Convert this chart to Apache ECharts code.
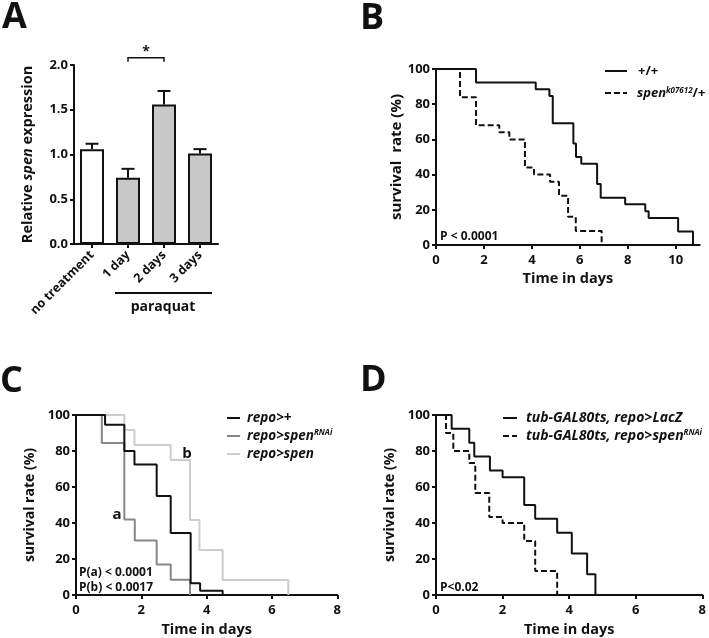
<!DOCTYPE html>
<html><head><meta charset="utf-8">
<script src="https://cdn.jsdelivr.net/npm/echarts@6/dist/echarts.min.js"></script>
<style>html,body{margin:0;padding:0;background:#fff}#c{width:709px;height:638px}</style>
</head><body><div id="c"></div>
<script>
// ---- Panel A data ----
const barCategories = ['no treatment', '1 day', '2 days', '3 days'];
const barValues = [1.06, 0.74, 1.56, 1.01];
const barErrors = [0.06, 0.10, 0.15, 0.05];

// ---- Panel B data ----
const bWildTime = [0, 1.67, 4.16, 4.73, 4.87, 5.73, 5.84, 6.06, 6.72, 6.87, 7.89, 8.73, 8.87, 10.1, 10.72];
const bWildSurv = [100, 92.3, 88.5, 84.6, 69.2, 57.7, 50, 46.2, 34.6, 26.9, 23.1, 19.2, 15.4, 7.7, 0];
const bSpenTime = [0, 1.0, 1.67, 2.64, 3.06, 3.71, 4.09, 4.76, 5.13, 5.51, 5.83, 6.91];
const bSpenSurv = [100, 84, 68, 64, 60, 44, 40, 36, 28, 16, 8, 0];
const xTicksB = [0, 2, 4, 6, 8, 10];
const xTicksCD = [0, 2, 4, 6, 8];

// ---- Panel C data ----
const cRepoTime = [0, 0.89, 1.48, 1.79, 2.47, 2.9, 3.51, 3.8, 4.49];
const cRepoSurv = [100, 94.6, 80, 72.5, 55, 34.5, 6.5, 2.3, 0];
const cRnaiTime = [0, 0.79, 1.48, 1.8, 2.47, 2.9, 3.49];
const cRnaiSurv = [100, 84.5, 42, 30.3, 17, 8.5, 0];
const cSpenTime = [0, 1.48, 1.79, 2.9, 3.49, 3.78, 4.49, 6.5];
const cSpenSurv = [100, 91.7, 83.3, 75, 41.7, 25, 8.3, 0];

// ---- Panel D data ----
const dLacZTime = [0, 0.47, 1.0, 1.15, 1.62, 2.0, 2.65, 2.98, 3.64, 4.08, 4.54, 4.79];
const dLacZSurv = [100, 92.3, 84.6, 76.9, 69.2, 65.4, 50, 42.3, 34.6, 23.1, 11.5, 0];
const dRnaiTime = [0, 0.3, 0.52, 1.0, 1.18, 1.6, 2.0, 2.65, 2.98, 3.64];
const dRnaiSurv = [100, 90, 80, 73.3, 56.7, 43.3, 40, 30, 13.3, 0];

const FONT = '"Open Sans"';
const INK = '#111';
const DASH = [6, 3];
const zip = (t, s) => t.map((x, i) => [x, s[i]]);

const axisBase = {
  axisLine: { show: true, onZero: false, lineStyle: { color: INK, width: 2 } },
  axisTick: { show: true, length: 4, lineStyle: { color: INK, width: 2 } },
  axisLabel: { color: INK, fontWeight: 'bold', fontSize: 13, fontFamily: FONT, margin: 6 },
  splitLine: { show: false },
  nameTextStyle: { color: INK, fontWeight: 'bold', fontSize: 14, fontFamily: FONT }
};
function ax(extra) {
  const o = JSON.parse(JSON.stringify(axisBase));
  for (const k in extra) {
    if (typeof extra[k] === 'object' && !Array.isArray(extra[k]) && o[k]) Object.assign(o[k], extra[k]);
    else o[k] = extra[k];
  }
  return o;
}
function survY(idx, gap, name, size) {
  return ax({ type: 'value', gridIndex: idx, min: 0, max: 100, interval: 20,
    name: name, nameLocation: 'middle', nameGap: gap, nameTextStyle: { fontSize: size } });
}
function survX(idx, max, ticks, gap) {
  return ax({ type: 'value', gridIndex: idx, min: 0, max: max, interval: 2,
    axisLabel: { customValues: ticks, margin: 9 }, axisTick: { customValues: ticks },
    name: 'Time in days', nameLocation: 'middle', nameGap: gap, nameTextStyle: { fontSize: 14.5 } });
}
function km(idx, data, color, dashed) {
  return { type: 'line', xAxisIndex: idx, yAxisIndex: idx, step: 'end', symbol: 'none',
    data: data, lineStyle: { color: color, width: 2, type: dashed ? DASH : 'solid' },
    silent: true, animation: false };
}

const chart = echarts.init(document.getElementById('c'), null, { renderer: 'canvas' });

const txt = (x, y, text, size, extra) => Object.assign({ type: 'text', x: x, y: y,
  style: Object.assign({ text: text, fill: INK, font: 'bold ' + size + 'px ' + FONT,
  textVerticalAlign: 'middle' }, extra || {}) });
const seg = (x1, y1, x2, y2, color, dashed) => ({ type: 'line',
  shape: { x1: x1, y1: y1, x2: x2, y2: y2 },
  style: { stroke: color, lineWidth: 2, lineDash: dashed ? DASH : null } });
function richSup(size) {
  return {
    i: { fontStyle: 'italic', fontWeight: 'bold', fontSize: size, fontFamily: FONT, fill: INK },
    s: { fontStyle: 'italic', fontWeight: 'bold', fontSize: 8, fontFamily: FONT, fill: INK, verticalAlign: 'top' },
    n: { fontWeight: 'bold', fontSize: size, fontFamily: FONT, fill: INK }
  };
}
const richTxt = (x, y, text, size) => ({ type: 'text', x: x, y: y,
  style: { text: text, rich: richSup(size), verticalAlign: 'middle', textVerticalAlign: 'middle' } });

const option = {
  animation: false,
  grid: [
    { left: 74, top: 65, width: 144, height: 179 },
    { left: 436, top: 69, width: 263.7, height: 176 },
    { left: 76, top: 415, width: 261.3, height: 181.7 },
    { left: 436, top: 415, width: 267.3, height: 181.7 }
  ],
  xAxis: [
    ax({ type: 'category', gridIndex: 0, data: barCategories,
      axisTick: { alignWithLabel: true },
      axisLabel: { rotate: 45, interval: 0, fontSize: 12.5, margin: 9 } }),
    survX(1, 11, xTicksB, 26),
    survX(2, 8, xTicksCD, 27),
    survX(3, 8, xTicksCD, 27)
  ],
  yAxis: [
    ax({ type: 'value', gridIndex: 0, min: 0, max: 2, interval: 0.5,
      axisLabel: { formatter: v => v.toFixed(1) },
      name: 'Relative {i|spen} expression', nameLocation: 'middle', nameGap: 39,
      nameTextStyle: { fontSize: 14.5, rich: { i: { fontStyle: 'italic', fontWeight: 'bold', fontSize: 14.5, fontFamily: FONT, color: INK } } } }),
    survY(1, 24, 'survival  rate (%)', 15),
    survY(2, 39, 'survival rate (%)', 14),
    survY(3, 39, 'survival rate (%)', 14)
  ],
  series: [
    { type: 'bar', xAxisIndex: 0, yAxisIndex: 0, barWidth: 24, silent: true,
      data: barValues.map((v, i) => ({ value: v, itemStyle: { color: i === 0 ? '#ffffff' : '#c8c8c8' } })),
      itemStyle: { borderColor: INK, borderWidth: 2 } },
    { type: 'custom', xAxisIndex: 0, yAxisIndex: 0, silent: true, clip: false,
      data: barValues.map((v, i) => [i, v, v + barErrors[i]]),
      renderItem: (params, api) => {
        const lo = api.coord([api.value(0), api.value(1)]);
        const hi = api.coord([api.value(0), api.value(2)]);
        return { type: 'group', children: [
          { type: 'line', shape: { x1: lo[0], y1: lo[1], x2: hi[0], y2: hi[1] }, style: { stroke: INK, lineWidth: 2 } },
          { type: 'line', shape: { x1: hi[0] - 6.5, y1: hi[1], x2: hi[0] + 6.5, y2: hi[1] }, style: { stroke: INK, lineWidth: 2 } }
        ] };
      } },
    { type: 'custom', xAxisIndex: 0, yAxisIndex: 0, silent: true, clip: false,
      data: [[1, 2, 2.08]],
      renderItem: (params, api) => {
        const a = api.coord([api.value(0), api.value(2)]);
        const b = api.coord([api.value(1), api.value(2)]);
        return { type: 'group', children: [
          { type: 'polyline', shape: { points: [[a[0], a[1] + 4], [a[0], a[1]], [b[0], b[1]], [b[0], b[1] + 4]] },
            style: { stroke: INK, lineWidth: 1.5, fill: null } },
          { type: 'text', x: (a[0] + b[0]) / 2, y: a[1] - 6,
            style: { text: '*', font: 'bold 14px ' + FONT, fill: INK, textAlign: 'center', textVerticalAlign: 'middle' } }
        ] };
      } },
    km(1, zip(bWildTime, bWildSurv), INK, false),
    km(1, zip(bSpenTime, bSpenSurv), INK, true),
    km(2, zip(cSpenTime, cSpenSurv), '#cdcdcd', false),
    km(2, zip(cRnaiTime, cRnaiSurv), '#878787', false),
    km(2, zip(cRepoTime, cRepoSurv), INK, false),
    km(3, zip(dLacZTime, dLacZSurv), INK, false),
    km(3, zip(dRnaiTime, dRnaiSurv), INK, true)
  ],
  graphic: [
    txt(2, 18, 'A', 36),
    txt(360, 19, 'B', 36),
    txt(0, 382, 'C', 36),
    txt(360, 381, 'D', 36),
    // paraquat annotation
    seg(115, 293, 212, 293, INK, false),
    txt(163, 307, 'paraquat', 14, { textAlign: 'center' }),
    // panel B legend & p
    seg(605, 71, 627, 71, INK, false),
    txt(638, 71, '+/+', 13),
    seg(605, 93, 627, 93, INK, true),
    richTxt(637, 93, '{i|spen}{s|k07612}{n|/+}', 13),
    txt(440, 237, 'P < 0.0001', 12),
    // panel C legend & labels
    seg(227, 418, 240, 418, INK, false),
    richTxt(247, 418, '{i|repo>+}', 13.5),
    seg(227, 436, 240, 436, '#878787', false),
    richTxt(247, 436, '{i|repo>spen}{s|RNAi}', 13.5),
    seg(227, 454, 240, 454, '#cdcdcd', false),
    richTxt(247, 454, '{i|repo>spen}', 13.5),
    txt(117, 515, 'a', 15, { textAlign: 'center' }),
    txt(187, 454, 'b', 15, { textAlign: 'center' }),
    txt(79, 573, 'P(a) < 0.0001', 12),
    txt(79, 588, 'P(b) < 0.0017', 12),
    // panel D legend & p
    seg(503, 418, 517, 418, INK, false),
    richTxt(526, 418, '{i|tub-GAL80ts, repo>LacZ}', 14),
    seg(503, 436, 517, 436, INK, true),
    richTxt(526, 436, '{i|tub-GAL80ts, repo>spen}{s|RNAi}', 14),
    txt(440, 588, 'P<0.02', 12)
  ]
};
chart.setOption(option);
</script></body></html>
